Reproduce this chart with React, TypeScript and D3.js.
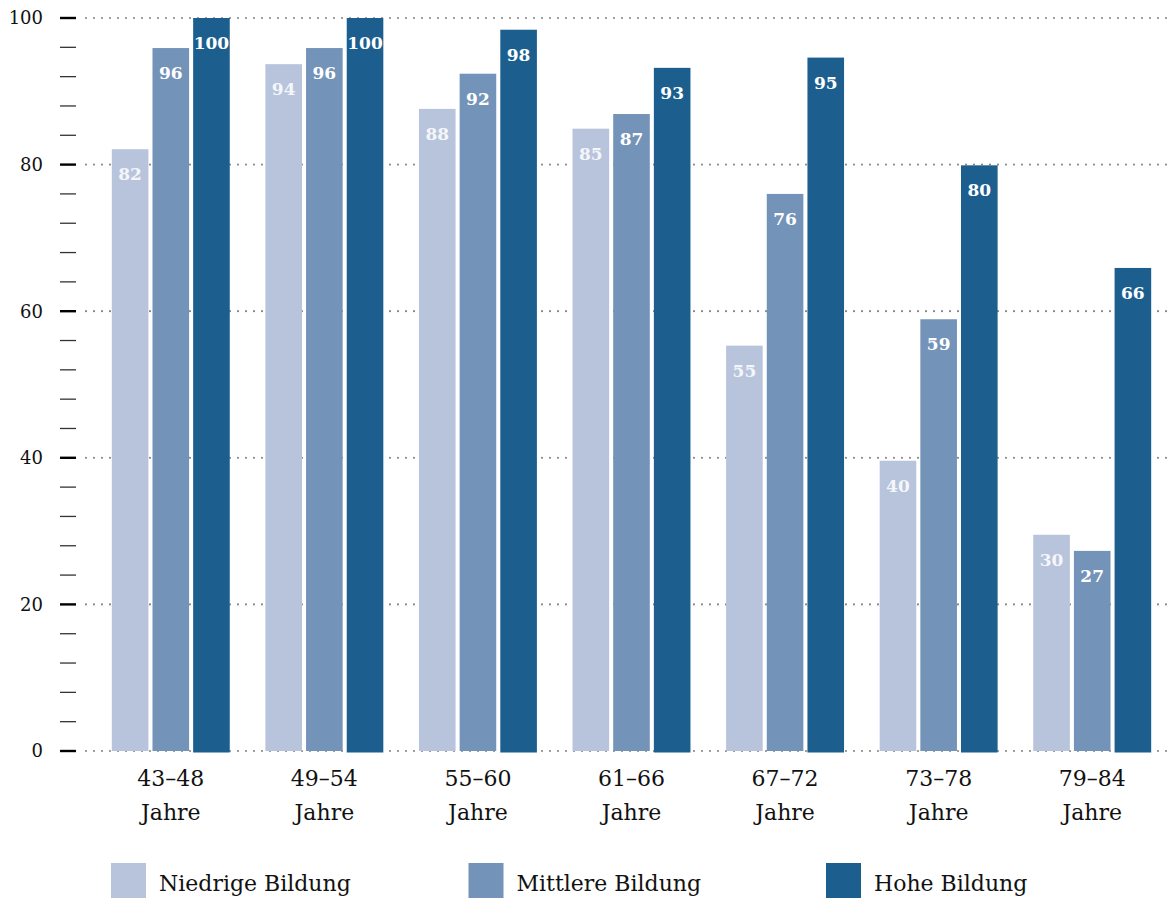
import React from "react";
import * as d3 from "d3";

const categories = ["43–48", "49–54", "55–60", "61–66", "67–72", "73–78", "79–84"];
const seriesNames = ["Niedrige Bildung", "Mittlere Bildung", "Hohe Bildung"];
const niedrig = [82.1, 93.7, 87.6, 84.9, 55.3, 39.6, 29.5];
const mittel = [95.9, 95.9, 92.4, 86.9, 76.0, 58.9, 27.3];
const hoch = [100, 100, 98.4, 93.2, 94.6, 79.9, 65.9];
const colors = ["#b8c4dc", "#7393b8", "#1c5f8f"];
const majorTicks = [0, 20, 40, 60, 80, 100];

const W = 1168;
const H = 898;
const FONT = "'DejaVu Serif', serif";

export default function App() {
  const series = [niedrig, mittel, hoch];
  const y = d3.scaleLinear().domain([0, 100]).range([751, 18]);
  const x = d3.scaleBand<string>().domain(categories).range([94, 1169]).paddingInner(0.232).paddingOuter(0.116);
  const xs = d3.scaleBand<string>().domain(seriesNames).range([0, x.bandwidth()]).paddingInner(0.1).paddingOuter(0);
  const minorTicks = d3.range(0, 101, 4).filter((v) => v % 20 !== 0);

  return (
    <svg width={W} height={H} style={{ position: "absolute", left: 0, top: 0 }} fontFamily={FONT}>
      <rect width={W} height={H} fill="#fff" />
      {majorTicks.map((t) => (
        <line key={"g" + t} x1={86} x2={W} y1={y(t)} y2={y(t)} stroke="#8a8a8a" strokeWidth={2.2} strokeDasharray="0 8" strokeLinecap="round" />
      ))}
      {majorTicks.map((t) => (
        <g key={"t" + t}>
          <line x1={60} x2={76} y1={y(t)} y2={y(t)} stroke="#000" strokeWidth={2.4} />
          <text x={43} y={y(t)} dy="0.35em" textAnchor="end" fontSize={18} fill="#111">{t}</text>
        </g>
      ))}
      {minorTicks.map((t) => (
        <line key={"m" + t} x1={60} x2={76} y1={y(t)} y2={y(t)} stroke="#333" strokeWidth={1.3} />
      ))}
      {categories.map((c, i) => (
        <g key={c} transform={`translate(${x(c)},0)`}>
          {series.map((s, j) => (
            <g key={j}>
              <rect x={xs(seriesNames[j])} y={y(s[i])} width={xs.bandwidth()} height={y(0) - y(s[i]) + (j === 2 ? 1.5 : 0)} fill={colors[j]} />
              <text x={(xs(seriesNames[j]) as number) + xs.bandwidth() / 2} y={y(s[i]) + 31} textAnchor="middle" fontSize={17} fontWeight="bold" fill={j === 0 ? "#f4f6fa" : "#fff"}>
                {Math.round(s[i])}
              </text>
            </g>
          ))}
          <text x={x.bandwidth() / 2} y={786} textAnchor="middle" fontSize={22} fill="#111">{c}</text>
          <text x={x.bandwidth() / 2} y={820} textAnchor="middle" fontSize={22} fill="#111">Jahre</text>
        </g>
      ))}
      {seriesNames.map((n, j) => (
        <g key={n} transform={`translate(${111 + j * 357.5},863)`}>
          <rect width={35} height={35} fill={colors[j]} />
          <text x={48} y={28} fontSize={22} fill="#111">{n}</text>
        </g>
      ))}
    </svg>
  );
}
